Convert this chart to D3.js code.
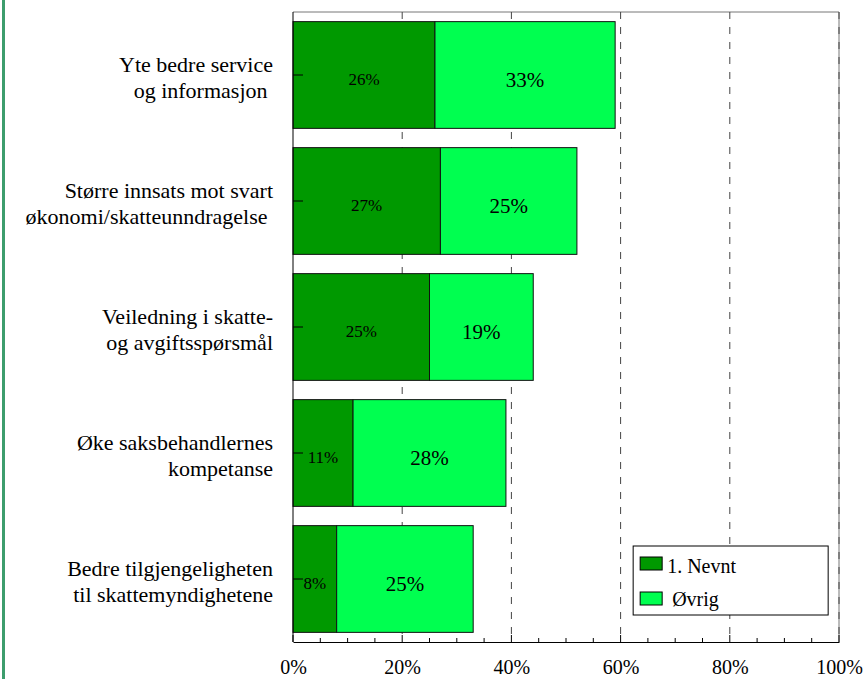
<!DOCTYPE html>
<html>
<head>
<meta charset="utf-8">
<script src="https://cdn.jsdelivr.net/npm/d3@7"></script>
<style>
  body { margin: 0; background: #fff; }
</style>
</head>
<body>
<div id="chart"></div>
<script>
// Categories (each split in two lines like the original)
const categories = [
    ["Yte bedre service", "og informasjon\u00a0"],
    ["Større innsats mot svart", "økonomi/skatteunndragelse\u00a0"],
    ["Veiledning i skatte-", "og avgiftsspørsmål"],
    ["Øke saksbehandlernes", "kompetanse"],
    ["Bedre tilgjengeligheten", "til skattemyndighetene"]
];
const firstMentioned = [26, 27, 25, 11, 8];
const otherMentioned = [33, 25, 19, 28, 25];
const seriesNames = ["1. Nevnt", "Øvrig"];
const xTicks = [0, 20, 40, 60, 80, 100];

const WIDTH = 863, HEIGHT = 679;
const MARGIN = { left: 293, right: 24, top: 12, bottom: 37 };
const COLORS = ["#009900", "#00ff50"];

// pick a serif face that is really installed (compare widths against monospace)
const pickFont = () => {
    const ctx = document.createElement("canvas").getContext("2d");
    const sample = "Yte bedre service 1234567890%";
    ctx.font = "40px monospace";
    const base = ctx.measureText(sample).width;
    const names = ["Liberation Serif", "Times New Roman", "DejaVu Serif", "Tinos", "Noto Serif", "FreeSerif"];
    for (const n of names) {
        ctx.font = `40px "${n}", monospace`;
        if (Math.abs(ctx.measureText(sample).width - base) > 0.5) return `"${n}", serif`;
    }
    return "serif";
};
const FONT = pickFont();

const svg = d3.select("#chart")
    .append("svg")
    .attr("width", WIDTH)
    .attr("height", HEIGHT)
    .style("font-family", FONT);

// green strip on the left side of the page
svg.append("rect")
    .attr("x", 2).attr("y", 0)
    .attr("width", 3).attr("height", HEIGHT)
    .attr("fill", "#3d9d6d");

const innerW = WIDTH - MARGIN.left - MARGIN.right;
const innerH = HEIGHT - MARGIN.top - MARGIN.bottom;

const g = svg.append("g")
    .attr("transform", `translate(${MARGIN.left}, ${MARGIN.top})`);

const x = d3.scaleLinear().domain([0, 100]).range([0, innerW]);
const y = d3.scaleBand()
    .domain(d3.range(categories.length))
    .range([0, innerH])
    .paddingInner(0.153)
    .paddingOuter(0.0765);

// frame (top and right)
g.append("path")
    .attr("d", `M0,0H${innerW}V${innerH}`)
    .attr("fill", "none")
    .attr("stroke", "#777");

// dashed gridlines
g.selectAll(".grid")
    .data(xTicks.slice(1))
    .join("line")
    .attr("class", "grid")
    .attr("x1", d => x(d)).attr("x2", d => x(d))
    .attr("y1", 0).attr("y2", innerH)
    .attr("stroke", "#444")
    .attr("stroke-dasharray", "7,8");

// stacked bars
const rows = categories.map((c, i) => ({ i, a: firstMentioned[i], b: otherMentioned[i] }));

const row = g.selectAll(".row").data(rows).join("g").attr("class", "row");

row.append("rect")
    .attr("x", x(0))
    .attr("y", d => y(d.i))
    .attr("width", d => x(d.a) - x(0))
    .attr("height", y.bandwidth())
    .attr("fill", COLORS[0])
    .attr("stroke", "#111");

row.append("rect")
    .attr("x", d => x(d.a))
    .attr("y", d => y(d.i))
    .attr("width", d => x(d.a + d.b) - x(d.a))
    .attr("height", y.bandwidth())
    .attr("fill", COLORS[1])
    .attr("stroke", "#111");

row.append("text")
    .attr("x", d => (x(0) + x(d.a)) / 2)
    .attr("y", d => y(d.i) + y.bandwidth() / 2 + 10)
    .attr("text-anchor", "middle")
    .style("font-size", "17px")
    .text(d => d.a + "%");

row.append("text")
    .attr("x", d => (x(d.a) + x(d.a + d.b)) / 2)
    .attr("y", d => y(d.i) + y.bandwidth() / 2 + 12)
    .attr("text-anchor", "middle")
    .style("font-size", "21px")
    .text(d => d.b + "%");

// left axis with inward ticks
g.append("line")
    .attr("x1", 0).attr("x2", 0)
    .attr("y1", 0).attr("y2", innerH)
    .attr("stroke", "#000");

g.selectAll(".ytick")
    .data(rows)
    .join("line")
    .attr("class", "ytick")
    .attr("x1", 0).attr("x2", 10)
    .attr("y1", d => y(d.i) + y.bandwidth() / 2)
    .attr("y2", d => y(d.i) + y.bandwidth() / 2)
    .attr("stroke", "#000");

// category labels
const labels = g.selectAll(".cat")
    .data(rows)
    .join("text")
    .attr("class", "cat")
    .attr("text-anchor", "end")
    .style("font-size", "22px")
    .attr("y", d => y(d.i) + y.bandwidth() / 2);

labels.selectAll("tspan")
    .data(d => categories[d.i])
    .join("tspan")
    .attr("x", -20)
    .attr("dy", (d, j) => j === 0 ? -3 : 26)
    .text(d => d);

// bottom axis
const xAxis = d3.axisBottom(x)
    .tickValues(xTicks)
    .tickFormat(d => d + "%")
    .tickSize(0)
    .tickPadding(18);

const axisG = g.append("g")
    .attr("transform", `translate(0, ${innerH})`)
    .call(xAxis)
    .attr("font-family", null);

axisG.select(".domain").attr("stroke", "#000");
axisG.selectAll("text")
    .style("font-size", "20px")
    .attr("fill", "#000");

// inward tick marks (minor every 5%, major every 20%)
g.selectAll(".xtick")
    .data(d3.range(0, 101, 5))
    .join("line")
    .attr("class", "xtick")
    .attr("x1", d => x(d)).attr("x2", d => x(d))
    .attr("y1", innerH)
    .attr("y2", d => innerH - (d % 20 === 0 ? 7 : 4))
    .attr("stroke", "#000");

// legend
const legend = g.append("g")
    .attr("transform", `translate(${x(62.3)}, ${546 - MARGIN.top})`);

legend.append("rect")
    .attr("width", 195).attr("height", 69)
    .attr("fill", "#fff")
    .attr("stroke", "#000");

seriesNames.forEach((name, i) => {
    legend.append("rect")
        .attr("x", 7).attr("y", 11 + i * 35)
        .attr("width", 22).attr("height", 13)
        .attr("fill", COLORS[i])
        .attr("stroke", "#000");
    legend.append("text")
        .attr("x", i === 0 ? 34 : 39)
        .attr("y", 27 + i * 33)
        .style("font-size", "20px")
        .text(name);
});
</script>
</body>
</html>
